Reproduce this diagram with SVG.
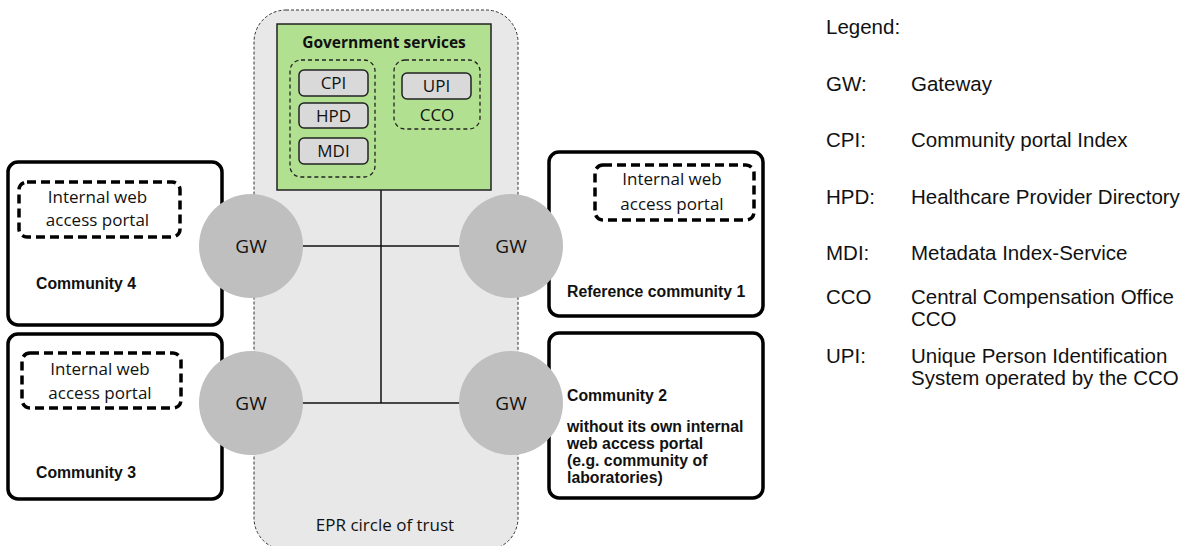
<svg xmlns="http://www.w3.org/2000/svg" width="1197" height="546" viewBox="0 0 1197 546">
<style>
.cal{font-family:"Open Sans","Noto Sans",sans-serif;fill:#111}
.ar{font-family:"Liberation Sans",Arial,sans-serif;fill:#111;font-size:20.5px}
.arb{font-family:"Liberation Sans",Arial,sans-serif;font-weight:bold;fill:#111;font-size:15.8px}
.comm{fill:#fff;stroke:#000;stroke-width:3.5}
.portal{fill:none;stroke:#000;stroke-width:3.5;stroke-dasharray:9 5}
.gw{fill:#bfbfbf}
.svc{fill:#d9d9d9;stroke:#222;stroke-width:1.5}
.grp{fill:none;stroke:#222;stroke-width:1.3;stroke-dasharray:4 3}
.conn{stroke:#111;stroke-width:1.5;fill:none}
</style>
<rect width="1197" height="546" fill="#fff"/>
<g id="epr-circle">
<rect x="254" y="10" width="264" height="540" rx="32" fill="#e8e8e8" stroke="#333" stroke-width="1" stroke-dasharray="3 2"/>
<text class="cal" x="385" y="531" font-size="17" text-anchor="middle">EPR circle of trust</text>
</g>
<g id="connectors">
<line class="conn" x1="381" y1="190" x2="381" y2="403"/>
<line class="conn" x1="251" y1="246" x2="511" y2="246"/>
<line class="conn" x1="251" y1="403" x2="511" y2="403"/>
</g>
<g id="gov-services">
<rect x="277" y="24" width="214" height="166" fill="#b1e090" stroke="#222" stroke-width="1.5"/>
<text class="cal" x="384" y="48" font-size="15.5" font-weight="bold" text-anchor="middle">Government services</text>
<rect class="grp" x="290" y="60" width="85" height="117" rx="11"/>
<rect class="grp" x="394" y="60" width="86" height="69" rx="11"/>
</g>
<g id="cpi"><rect class="svc" x="299" y="70" width="69" height="26" rx="5"/><text class="cal" x="333.5" y="89" font-size="17" text-anchor="middle">CPI</text></g>
<g id="hpd"><rect class="svc" x="299" y="103" width="69" height="25" rx="5"/><text class="cal" x="333.5" y="121.5" font-size="17" text-anchor="middle">HPD</text></g>
<g id="mdi"><rect class="svc" x="299" y="138" width="69" height="26" rx="5"/><text class="cal" x="333.5" y="157" font-size="17" text-anchor="middle">MDI</text></g>
<g id="upi"><rect class="svc" x="402" y="73" width="69" height="26" rx="5"/><text class="cal" x="436.5" y="92" font-size="17" text-anchor="middle">UPI</text></g>
<g id="cco"><text class="cal" x="437" y="121" font-size="17" text-anchor="middle">CCO</text></g>
<g id="community4">
<rect class="comm" x="8" y="162" width="214" height="163" rx="10"/>
<rect class="portal" x="19" y="182" width="161" height="55" rx="8"/>
<text class="cal" x="97.5" y="203" font-size="17" text-anchor="middle">Internal web</text>
<text class="cal" x="97.5" y="226" font-size="17" text-anchor="middle">access portal</text>
<text class="arb" x="36" y="289">Community 4</text>
</g>
<g id="community3">
<rect class="comm" x="8" y="334" width="214" height="165" rx="10"/>
<rect class="portal" x="22" y="353" width="159" height="55" rx="8"/>
<text class="cal" x="100" y="375" font-size="17" text-anchor="middle">Internal web</text>
<text class="cal" x="100" y="399" font-size="17" text-anchor="middle">access portal</text>
<text class="arb" x="36" y="478">Community 3</text>
</g>
<g id="community1">
<rect class="comm" x="549" y="152" width="214" height="164" rx="10"/>
<rect class="portal" x="595" y="165" width="159" height="55" rx="8"/>
<text class="cal" x="672" y="185" font-size="17" text-anchor="middle">Internal web</text>
<text class="cal" x="672" y="210" font-size="17" text-anchor="middle">access portal</text>
<text class="arb" x="567" y="297">Reference community 1</text>
</g>
<g id="community2">
<rect class="comm" x="549" y="333" width="214" height="165" rx="10"/>
<text class="arb" x="567" y="401">Community 2</text>
<text class="arb" x="567" y="432">without its own internal</text>
<text class="arb" x="567" y="449">web access portal</text>
<text class="arb" x="567" y="466">(e.g. community of</text>
<text class="arb" x="567" y="483">laboratories)</text>
</g>
<g id="gw-tl"><circle class="gw" cx="251" cy="246" r="52"/><text class="cal" x="251" y="253" font-size="19" text-anchor="middle">GW</text></g>
<g id="gw-tr"><circle class="gw" cx="511" cy="246" r="52"/><text class="cal" x="511" y="253" font-size="19" text-anchor="middle">GW</text></g>
<g id="gw-bl"><circle class="gw" cx="251" cy="403" r="52"/><text class="cal" x="251" y="410" font-size="19" text-anchor="middle">GW</text></g>
<g id="gw-br"><circle class="gw" cx="511" cy="403" r="52"/><text class="cal" x="511" y="410" font-size="19" text-anchor="middle">GW</text></g>
<g id="legend">
<text class="ar" x="826" y="34">Legend:</text>
<text class="ar" x="826" y="91">GW:</text><text class="ar" x="911" y="91">Gateway</text>
<text class="ar" x="826" y="147">CPI:</text><text class="ar" x="911" y="147">Community portal Index</text>
<text class="ar" x="826" y="204">HPD:</text><text class="ar" x="911" y="204">Healthcare Provider Directory</text>
<text class="ar" x="826" y="260">MDI:</text><text class="ar" x="911" y="260">Metadata Index-Service</text>
<text class="ar" x="826" y="304">CCO</text><text class="ar" x="911" y="304">Central Compensation Office</text>
<text class="ar" x="911" y="326">CCO</text>
<text class="ar" x="826" y="363">UPI:</text><text class="ar" x="911" y="363">Unique Person Identification</text>
<text class="ar" x="911" y="385">System operated by the CCO</text>
</g>
</svg>
